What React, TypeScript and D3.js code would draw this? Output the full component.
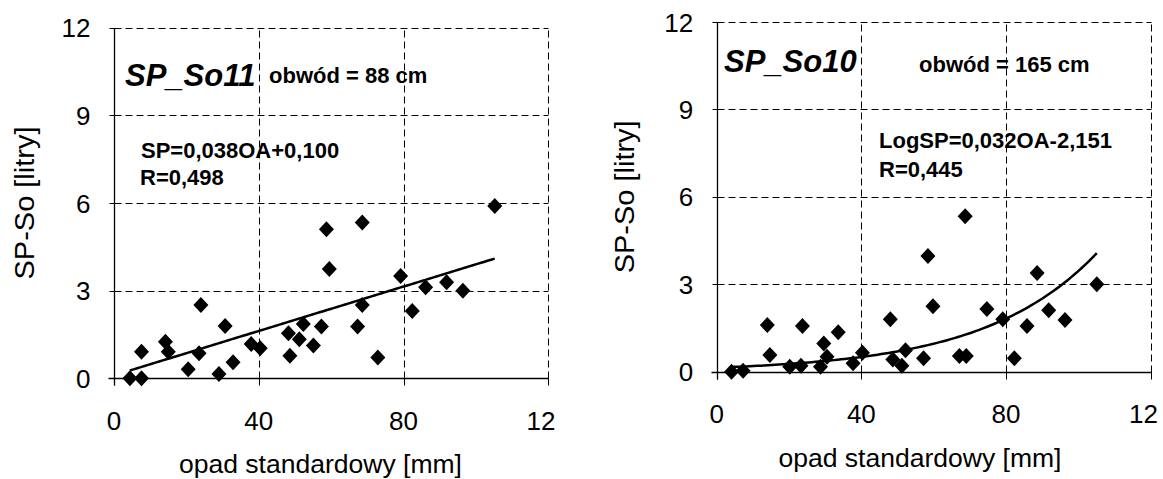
import React from 'react';
import * as d3 from 'd3';

const xTicks = [0, 40, 80, 120];
const xTickLabels = ['0', '40', '80', '12'];
const yTicks = [0, 3, 6, 9, 12];
const yTickLabels = ['0', '3', '6', '9', '12'];

const so11X = [4.4, 7.6, 7.6, 14.2, 15, 20.5, 23.5, 24, 29, 30.7, 32.9, 37.9, 40.4, 48.2, 48.6, 51.2, 52.3, 55.1, 57.3, 58.7, 59.5, 67.3, 68.6, 68.6, 72.9, 79.2, 82.4, 86.1, 91.9, 96.4, 105.2];
const so11Y = [0.0, 0.0, 0.91, 1.25, 0.91, 0.31, 0.86, 2.51, 0.15, 1.79, 0.55, 1.17, 1.03, 1.54, 0.77, 1.34, 1.86, 1.12, 1.77, 5.1, 3.74, 1.77, 2.51, 5.33, 0.71, 3.5, 2.3, 3.12, 3.29, 3.0, 5.9];

const so10X = [4.1, 7.3, 14, 14.7, 20.2, 23.3, 23.7, 28.7, 29.6, 30.5, 33.6, 37.7, 40.3, 48, 48.7, 51.2, 52.2, 57.2, 58.4, 59.8, 67.1, 69, 68.7, 74.7, 79.1, 82.3, 85.8, 88.6, 91.8, 96.3, 105.1];
const so10Y = [0.0, 0.03, 1.6, 0.57, 0.17, 0.2, 1.57, 0.17, 0.97, 0.51, 1.35, 0.29, 0.65, 1.8, 0.42, 0.2, 0.74, 0.46, 3.97, 2.25, 0.54, 0.54, 5.33, 2.15, 1.8, 0.46, 1.57, 3.39, 2.11, 1.77, 3.0];

const so11Slope = 0.038;
const so11Intercept = 0.1;
const so10Rate = 0.032;
const so10Offset = -1.96;

const FONT = "Arial, 'Liberation Sans', Helvetica, sans-serif";

const crisp = (v: number) => Math.round(v) + 0.5;

type PanelProps = {
  xs: number[];
  ys: number[];
  trend: (x: number) => number;
  xRange: [number, number];
  yRange: [number, number];
  yTitleX: number;
  xTitleY: number;
  xTitleCx: number;
  texts: { t: string; x: number; y: number; size: number; italic?: boolean }[];
};

function Panel({ xs, ys, trend, xRange, yRange, yTitleX, xTitleY, xTitleCx, texts }: PanelProps) {
  const x = d3.scaleLinear().domain([0, 120]).range(xRange);
  const y = d3.scaleLinear().domain([0, 12]).range(yRange);
  const x0 = crisp(x(0));
  const y0 = crisp(y(0));
  const xMin = d3.min(xs) as number;
  const xMax = d3.max(xs) as number;
  const trendPts = d3.range(0, 101).map((i) => xMin + ((xMax - xMin) * i) / 100);
  const line = d3
    .line<number>()
    .x((d) => x(d))
    .y((d) => y(trend(d)));
  const diamond = 'M0,-8L7.5,0L0,8L-7.5,0Z';
  const yMid = (y(0) + y(12)) / 2;
  return (
    <g>
      {/* grid */}
      {yTicks.filter((t) => t > 0).map((t) => (
        <line key={'gy' + t} x1={x0} x2={crisp(x(120))} y1={crisp(y(t))} y2={crisp(y(t))} stroke="#000" strokeWidth={1} strokeDasharray="7 4" />
      ))}
      {xTicks.filter((t) => t > 0).map((t) => (
        <line key={'gx' + t} x1={crisp(x(t))} x2={crisp(x(t))} y1={y0} y2={crisp(y(12))} stroke="#000" strokeWidth={1} strokeDasharray="7 4" />
      ))}
      {/* axes */}
      <line x1={x0 - 6} x2={crisp(x(120))} y1={y0} y2={y0} stroke="#000" strokeWidth={1.3} />
      <line x1={x0} x2={x0} y1={crisp(y(12))} y2={y0 + 7} stroke="#000" strokeWidth={1.3} />
      {yTicks.map((t) => (
        <line key={'ty' + t} x1={x0 - 5} x2={x0 + 5} y1={crisp(y(t))} y2={crisp(y(t))} stroke="#000" strokeWidth={1} />
      ))}
      {xTicks.map((t) => (
        <line key={'tx' + t} x1={crisp(x(t))} x2={crisp(x(t))} y1={y0 - 5} y2={y0 + 7} stroke="#000" strokeWidth={1} />
      ))}
      {/* tick labels */}
      {yTicks.map((t, i) => (
        <text key={'ly' + t} x={x(0) - 23.5} y={y(t) + 9.5} textAnchor="end" fontFamily={FONT} fontSize={26}>
          {yTickLabels[i]}
        </text>
      ))}
      {xTicks.map((t, i) =>
        i === xTicks.length - 1 ? (
          <text key={'lx' + t} x={x(t) - 21.7} y={y(0) + 51.5} textAnchor="start" fontFamily={FONT} fontSize={26}>
            {xTickLabels[i]}
          </text>
        ) : (
          <text key={'lx' + t} x={x(t)} y={y(0) + 51.5} textAnchor="middle" fontFamily={FONT} fontSize={26}>
            {xTickLabels[i]}
          </text>
        )
      )}
      {/* axis titles */}
      <text
        transform={`translate(${yTitleX},${yMid}) rotate(-90)`}
        textAnchor="middle"
        fontFamily={FONT}
        fontSize={27}
        textLength={153}
        lengthAdjust="spacingAndGlyphs"
      >
        SP-So [litry]
      </text>
      <text x={xTitleCx} y={xTitleY} textAnchor="middle" fontFamily={FONT} fontSize={26.5} textLength={283} lengthAdjust="spacingAndGlyphs">
        opad standardowy [mm]
      </text>
      {/* trend */}
      <path d={line(trendPts) || ''} fill="none" stroke="#000" strokeWidth={2.5} />
      {/* points */}
      {xs.map((v, i) => (
        <path key={'p' + i} d={diamond} transform={`translate(${x(v)},${y(ys[i])})`} fill="#000" />
      ))}
      {/* annotations */}
      {texts.map((tx, i) => (
        <text
          key={'a' + i}
          x={tx.x}
          y={tx.y}
          fontFamily={FONT}
          fontSize={tx.size}
          fontWeight="bold"
          fontStyle={tx.italic ? 'italic' : 'normal'}
        >
          {tx.t}
        </text>
      ))}
    </g>
  );
}

export default function App() {
  return (
    <svg width={1163} height={479} style={{ position: 'absolute', left: 0, top: 0, background: '#fff' }}>
      <rect x={0} y={0} width={1163} height={479} fill="#fff" />
      <Panel
        xs={so11X}
        ys={so11Y}
        trend={(v) => so11Slope * v + so11Intercept}
        xRange={[114, 548.3]}
        yRange={[378.3, 27.7]}
        yTitleX={34}
        xTitleY={473}
        xTitleCx={320.5}
        texts={[
          { t: 'SP_So11', x: 125, y: 86, size: 31, italic: true },
          { t: 'obwód = 88 cm', x: 269, y: 83, size: 22 },
          { t: 'SP=0,038OA+0,100', x: 141, y: 158, size: 22 },
          { t: 'R=0,498', x: 140, y: 185, size: 22 },
        ]}
      />
      <Panel
        xs={so10X}
        ys={so10Y}
        trend={(v) => Math.exp(so10Rate * v + so10Offset)}
        xRange={[716.7, 1150.7]}
        yRange={[371.7, 22]}
        yTitleX={634}
        xTitleY={467}
        xTitleCx={920}
        texts={[
          { t: 'SP_So10', x: 724, y: 72, size: 31, italic: true },
          { t: 'obwód = 165 cm', x: 919, y: 72, size: 22 },
          { t: 'LogSP=0,032OA-2,151', x: 879, y: 148, size: 22 },
          { t: 'R=0,445', x: 879, y: 177, size: 22 },
        ]}
      />
    </svg>
  );
}
